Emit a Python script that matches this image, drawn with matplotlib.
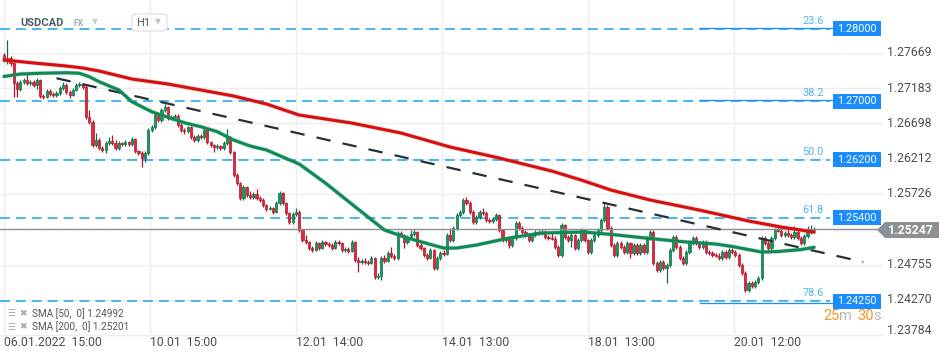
import matplotlib
matplotlib.use("Agg")
import matplotlib.pyplot as plt
from matplotlib.patches import Rectangle, Polygon, FancyBboxPatch
from matplotlib.transforms import blended_transform_factory
import numpy as np

# ---------------- data (USDCAD, H1) ----------------
first_open = 1.2764
closes = [
 1.2757, 1.2760, 1.2753, 1.2725, 1.2717, 1.2727, 1.2730, 1.2725, 1.2727, 1.2723,
 1.2730, 1.2708, 1.2706, 1.2714, 1.2710, 1.2709, 1.2712, 1.2719, 1.2723, 1.2713,
 1.2709, 1.2716, 1.2723, 1.2724, 1.2720, 1.2679, 1.2672, 1.2640, 1.2647, 1.2636,
 1.2633, 1.2643, 1.2646, 1.2643, 1.2636, 1.2643, 1.2641, 1.2644, 1.2641, 1.2648,
 1.2632, 1.2629, 1.2622, 1.2629, 1.2661, 1.2665, 1.2681, 1.2674, 1.2688, 1.2692,
 1.2677, 1.2679, 1.2680, 1.2668, 1.2661, 1.2659, 1.2665, 1.2651, 1.2647, 1.2652,
 1.2651, 1.2661, 1.2644, 1.2640, 1.2637, 1.2639, 1.2636, 1.2643, 1.2651, 1.2630,
 1.2599, 1.2588, 1.2567, 1.2582, 1.2571, 1.2568, 1.2573, 1.2567, 1.2564, 1.2557,
 1.2552, 1.2553, 1.2548, 1.2560, 1.2574, 1.2560, 1.2546, 1.2534, 1.2545, 1.2548,
 1.2523, 1.2509, 1.2506, 1.2498, 1.2495, 1.2505, 1.2498, 1.2506, 1.2504, 1.2502,
 1.2498, 1.2506, 1.2505, 1.2495, 1.2497, 1.2494, 1.2506, 1.2482, 1.2479, 1.2480,
 1.2479, 1.2478, 1.2484, 1.2458, 1.2460, 1.2484, 1.2480, 1.2491, 1.2487, 1.2484,
 1.2519, 1.2516, 1.2506, 1.2513, 1.2517, 1.2520, 1.2502, 1.2498, 1.2488, 1.2484,
 1.2495, 1.2471, 1.2484, 1.2491, 1.2490, 1.2516, 1.2509, 1.2526, 1.2544, 1.2548,
 1.2564, 1.2560, 1.2548, 1.2534, 1.2541, 1.2548, 1.2546, 1.2537, 1.2535, 1.2538,
 1.2544, 1.2523, 1.2509, 1.2510, 1.2502, 1.2512, 1.2533, 1.2526, 1.2520, 1.2516,
 1.2509, 1.2516, 1.2520, 1.2519, 1.2520, 1.2513, 1.2512, 1.2511, 1.2500, 1.2488,
 1.2530, 1.2513, 1.2509, 1.2516, 1.2498, 1.2509, 1.2523, 1.2509, 1.2493, 1.2509,
 1.2516, 1.2523, 1.2537, 1.2555, 1.2526, 1.2502, 1.2488, 1.2505, 1.2500, 1.2493,
 1.2505, 1.2491, 1.2502, 1.2491, 1.2502, 1.2493, 1.2512, 1.2520, 1.2478, 1.2468,
 1.2479, 1.2471, 1.2475, 1.2495, 1.2513, 1.2500, 1.2484, 1.2478, 1.2493, 1.2505,
 1.2512, 1.2505, 1.2500, 1.2506, 1.2493, 1.2491, 1.2488, 1.2487, 1.2484, 1.2493,
 1.2486, 1.2495, 1.2493, 1.2488, 1.2475, 1.2464, 1.2440, 1.2450, 1.2446, 1.2451,
 1.2457, 1.2512, 1.2505, 1.2498, 1.2512, 1.2523, 1.2522, 1.2516, 1.2519, 1.2516,
 1.2513, 1.2520, 1.2512, 1.2505, 1.2515, 1.2520, 1.2523, 1.25247]

highs = [
 1.2767, 1.2785, 1.2763, 1.2754, 1.2728, 1.2730, 1.2732, 1.2739, 1.2730, 1.2730,
 1.2732, 1.2731, 1.2710, 1.2717, 1.2717, 1.2713, 1.2714, 1.2721, 1.2727, 1.2725,
 1.2716, 1.2719, 1.2725, 1.2727, 1.2725, 1.2723, 1.2688, 1.2674, 1.2657, 1.2650,
 1.2639, 1.2646, 1.2651, 1.2654, 1.2647, 1.2646, 1.2644, 1.2647, 1.2646, 1.2651,
 1.2650, 1.2633, 1.2632, 1.2632, 1.2663, 1.2668, 1.2684, 1.2684, 1.2691, 1.2696,
 1.2694, 1.2681, 1.2683, 1.2683, 1.2670, 1.2663, 1.2666, 1.2666, 1.2654, 1.2655,
 1.2655, 1.2663, 1.2662, 1.2646, 1.2641, 1.2641, 1.2640, 1.2646, 1.2662, 1.2652,
 1.2632, 1.2601, 1.2589, 1.2585, 1.2584, 1.2577, 1.2575, 1.2579, 1.2570, 1.2567,
 1.2559, 1.2556, 1.2555, 1.2563, 1.2577, 1.2575, 1.2562, 1.2548, 1.2548, 1.2553,
 1.2551, 1.2524, 1.2516, 1.2508, 1.2501, 1.2508, 1.2506, 1.2509, 1.2508, 1.2506,
 1.2505, 1.2509, 1.2509, 1.2506, 1.2500, 1.2500, 1.2509, 1.2508, 1.2486, 1.2483,
 1.2484, 1.2482, 1.2487, 1.2486, 1.2464, 1.2487, 1.2488, 1.2494, 1.2500, 1.2490,
 1.2521, 1.2521, 1.2517, 1.2516, 1.2523, 1.2524, 1.2521, 1.2505, 1.2500, 1.2491,
 1.2498, 1.2497, 1.2487, 1.2494, 1.2495, 1.2519, 1.2526, 1.2529, 1.2546, 1.2551,
 1.2567, 1.2568, 1.2563, 1.2551, 1.2544, 1.2551, 1.2553, 1.2549, 1.2540, 1.2541,
 1.2546, 1.2545, 1.2524, 1.2512, 1.2512, 1.2515, 1.2535, 1.2535, 1.2529, 1.2523,
 1.2519, 1.2519, 1.2523, 1.2523, 1.2524, 1.2523, 1.2516, 1.2519, 1.2515, 1.2502,
 1.2533, 1.2531, 1.2516, 1.2519, 1.2517, 1.2512, 1.2526, 1.2524, 1.2510, 1.2512,
 1.2519, 1.2526, 1.2540, 1.2560, 1.2557, 1.2529, 1.2505, 1.2508, 1.2508, 1.2502,
 1.2508, 1.2506, 1.2505, 1.2505, 1.2505, 1.2505, 1.2515, 1.2523, 1.2523, 1.2480,
 1.2482, 1.2482, 1.2478, 1.2498, 1.2516, 1.2516, 1.2502, 1.2487, 1.2495, 1.2508,
 1.2515, 1.2515, 1.2508, 1.2509, 1.2509, 1.2495, 1.2494, 1.2491, 1.2491, 1.2495,
 1.2495, 1.2498, 1.2498, 1.2495, 1.2491, 1.2478, 1.2466, 1.2453, 1.2453, 1.2454,
 1.2460, 1.2515, 1.2515, 1.2508, 1.2515, 1.2526, 1.2530, 1.2526, 1.2521, 1.2524,
 1.2519, 1.2529, 1.2523, 1.2515, 1.2517, 1.2529, 1.2530, 1.2527]

lows = [
 1.2754, 1.2752, 1.2749, 1.2706, 1.2706, 1.2714, 1.2724, 1.2723, 1.2723, 1.2720,
 1.2717, 1.2705, 1.2703, 1.2705, 1.2708, 1.2706, 1.2706, 1.2709, 1.2716, 1.2710,
 1.2705, 1.2708, 1.2714, 1.2720, 1.2717, 1.2676, 1.2669, 1.2637, 1.2637, 1.2633,
 1.2630, 1.2629, 1.2640, 1.2640, 1.2633, 1.2633, 1.2639, 1.2639, 1.2639, 1.2639,
 1.2629, 1.2626, 1.2610, 1.2617, 1.2626, 1.2658, 1.2662, 1.2672, 1.2672, 1.2685,
 1.2674, 1.2674, 1.2676, 1.2665, 1.2658, 1.2655, 1.2657, 1.2648, 1.2644, 1.2644,
 1.2648, 1.2648, 1.2641, 1.2637, 1.2630, 1.2635, 1.2633, 1.2633, 1.2640, 1.2628,
 1.2596, 1.2585, 1.2564, 1.2564, 1.2568, 1.2566, 1.2566, 1.2564, 1.2562, 1.2555,
 1.2549, 1.2551, 1.2545, 1.2546, 1.2557, 1.2557, 1.2544, 1.2531, 1.2531, 1.2542,
 1.2520, 1.2506, 1.2504, 1.2495, 1.2493, 1.2494, 1.2495, 1.2497, 1.2501, 1.2500,
 1.2495, 1.2497, 1.2502, 1.2493, 1.2493, 1.2491, 1.2493, 1.2479, 1.2465, 1.2476,
 1.2476, 1.2475, 1.2476, 1.2455, 1.2455, 1.2454, 1.2478, 1.2479, 1.2484, 1.2482,
 1.2482, 1.2513, 1.2498, 1.2504, 1.2510, 1.2515, 1.2500, 1.2495, 1.2486, 1.2482,
 1.2483, 1.2468, 1.2468, 1.2482, 1.2487, 1.2488, 1.2506, 1.2506, 1.2523, 1.2541,
 1.2545, 1.2557, 1.2545, 1.2531, 1.2531, 1.2538, 1.2544, 1.2534, 1.2533, 1.2533,
 1.2535, 1.2520, 1.2506, 1.2506, 1.2498, 1.2500, 1.2509, 1.2523, 1.2517, 1.2513,
 1.2506, 1.2506, 1.2513, 1.2516, 1.2516, 1.2510, 1.2509, 1.2509, 1.2497, 1.2486,
 1.2486, 1.2510, 1.2506, 1.2500, 1.2495, 1.2495, 1.2506, 1.2506, 1.2490, 1.2490,
 1.2506, 1.2513, 1.2520, 1.2534, 1.2523, 1.2500, 1.2486, 1.2486, 1.2497, 1.2490,
 1.2490, 1.2484, 1.2488, 1.2488, 1.2488, 1.2490, 1.2490, 1.2509, 1.2475, 1.2465,
 1.2465, 1.2468, 1.2450, 1.2472, 1.2493, 1.2497, 1.2482, 1.2475, 1.2475, 1.2490,
 1.2502, 1.2502, 1.2497, 1.2497, 1.2490, 1.2488, 1.2486, 1.2486, 1.2482, 1.2482,
 1.2483, 1.2483, 1.2490, 1.2486, 1.2472, 1.2461, 1.2438, 1.2438, 1.2443, 1.2443,
 1.2449, 1.2454, 1.2502, 1.2495, 1.2495, 1.2509, 1.2520, 1.2513, 1.2513, 1.2513,
 1.2510, 1.2510, 1.2509, 1.2502, 1.2502, 1.2512, 1.2517, 1.2520]

# hourly FX candles open at the previous close
opens = [first_open] + closes[:-1]

# moving averages (candle number, value)
sma50_at = [0, 5, 11, 19, 23, 26, 29, 35, 39, 45, 50, 55, 60, 65, 70, 75, 80, 85, 90,
            98, 106, 111, 116, 123, 134, 138, 144, 154, 164, 177, 187, 197, 207, 217,
            222, 227, 231, 236, 243, 247]
sma50 = [1.27344, 1.27378, 1.27388, 1.27396, 1.27388, 1.27341, 1.27272, 1.27158, 1.26997,
         1.26859, 1.26782, 1.26707, 1.26652, 1.26584, 1.26469, 1.26387, 1.26332, 1.26235,
         1.26139, 1.25877, 1.25588, 1.25409, 1.25230, 1.25120, 1.24982, 1.24982, 1.25023,
         1.25120, 1.25189, 1.25202, 1.25161, 1.25113, 1.25069, 1.25037, 1.25003, 1.24961,
         1.24927, 1.24934, 1.24961, 1.24992]
sma200_at = [0, 9, 19, 24, 29, 39, 50, 60, 70, 80, 90, 106, 121, 136, 151, 167, 176, 185,
             197, 212, 227, 237, 247]
sma200 = [1.27571, 1.27530, 1.27488, 1.27461, 1.27419, 1.27309, 1.27240, 1.27158, 1.27075,
          1.26965, 1.26813, 1.26703, 1.26566, 1.26373, 1.26221, 1.26042, 1.25918, 1.25781,
          1.25643, 1.25505, 1.25354, 1.25271, 1.25201]

trend_at = [16, 262]
trend = [1.2732, 1.2479]

fib_levels = [1.2800, 1.2700, 1.2620, 1.2540, 1.2425]
fib_names = ["23.6", "38.2", "50.0", "61.8", "78.6"]
fib_boxes = ["1.28000", "1.27000", "1.26200", "1.25400", "1.24250"]

last_price = 1.25247
price_ticks = [1.27669, 1.27183, 1.26698, 1.26212, 1.25726, 1.25240, 1.24755, 1.24270, 1.23784]
price_tick_labels = ["1.27669", "1.27183", "1.26698", "1.26212", "1.25726", "",
                     "1.24755", "1.24270", "1.23784"]
time_ticks = [0, 44.5, 89, 133.5, 178, 222.5]
time_labels = ["06.01.2022  15:00", "10.01  15:00", "12.01  14:00",
               "14.01  13:00", "18.01  13:00", "20.01  12:00"]

# ---------------- figure ----------------
W, H = 950, 361
plt.rcParams['font.family'] = ['Roboto', 'DejaVu Sans']
fig = plt.figure(figsize=(W / 100, H / 100), dpi=100)
fig.patch.set_facecolor('white')
ax = fig.add_axes([0, 24 / H, 883 / W, 337 / H])
ax.set_xlim(-1.22, 268.0)
ax.set_ylim(1.23757, 1.28397)
ax.axis('off')
bt = blended_transform_factory(fig.transFigure, ax.transData)

grid_c = '#eeeeee'
for p in price_ticks:
    ax.axhline(p, color=grid_c, lw=1.0, zorder=0)
for t in time_ticks:
    ax.axvline(t, color=grid_c, lw=1.0, zorder=0)

# fibonacci levels
fib_c = '#1aa3f0'
for lvl, nm, bx in zip(fib_levels, fib_names, fib_boxes):
    ax.plot([0, 830 / W], [lvl, lvl], transform=bt, color=fib_c, lw=1.1,
            dashes=(6.5, 3.9), zorder=1)
    ax.annotate(nm, xy=(813 / W, lvl), xycoords=bt, xytext=(0, 8),
                textcoords='offset pixels', ha='center', va='center',
                fontsize=7.8, color='#4db4f2')
    ax.add_patch(Rectangle((833 / W, lvl - 0.00103), 48 / W, 0.00207, transform=bt,
                           facecolor='#1a8cff', edgecolor='none', clip_on=False, zorder=6))
    ax.text(857 / W, lvl, bx, transform=bt, ha='center', va='center',
            fontsize=7.8, color='white', zorder=7)
# solid part of the fib drawings near the right end
for lvl, off in [(1.2800, 0.00016), (1.2700, 0.00016), (1.2425, -0.00022)]:
    ax.plot([700 / W, 833 / W], [lvl + off, lvl + off], transform=bt,
            color='#1a8cff', lw=0.9, zorder=1)

# current price line
ax.axhline(last_price, color='#8d9297', lw=1.0, zorder=2.5)

# candles
o = np.array(opens); c = np.array(closes); hi = np.array(highs); lo = np.array(lows)
x = np.arange(len(c))
up = c >= o
fill = np.where(up, '#17995f', '#e4283c')
edge = np.where(up, '#0d6e44', '#b0142a')
top = np.maximum(np.maximum(o, c), hi)
bot = np.minimum(np.minimum(o, c), lo)
ax.vlines(x, bot, top, colors=edge, lw=0.9, zorder=2)
body_b = np.minimum(o, c)
body_h = np.maximum(np.abs(c - o), 0.00004)
ax.bar(x, body_h, bottom=body_b, width=0.66, color=fill, edgecolor=edge,
       linewidth=0.5, zorder=2.2)

# trend line
ax.plot(trend_at, trend, color='#2a2f35', lw=1.6, dashes=(6.5, 5.5), zorder=3)

# moving averages
ax.plot(sma200_at, sma200, color='#e06060', lw=3.1, alpha=0.35, zorder=4,
        solid_capstyle='round', solid_joinstyle='round')
ax.plot(sma200_at, sma200, color='#d60f0f', lw=2.2, zorder=4.1,
        solid_capstyle='round', solid_joinstyle='round')
ax.plot(sma50_at, sma50, color='#4aa67e', lw=3.1, alpha=0.35, zorder=4,
        solid_capstyle='round', solid_joinstyle='round')
ax.plot(sma50_at, sma50, color='#0d8a55', lw=2.2, zorder=4.1,
        solid_capstyle='round', solid_joinstyle='round')

# price axis labels
for p, lab in zip(price_ticks, price_tick_labels):
    if not lab:
        continue
    dy = 5 if p < 1.2380 else 0
    ax.annotate(lab, xy=(887 / W, p), xycoords=bt, xytext=(0, dy),
                textcoords='offset pixels', ha='left', va='center',
                fontsize=8.8, color='#4d4d4d', annotation_clip=False)

# time axis labels
bt2 = blended_transform_factory(ax.transData, fig.transFigure)
for t, lab in zip(time_ticks, time_labels):
    ax.text(t, 1 - 342 / H, lab, transform=bt2, ha='left', va='center',
            fontsize=8.8, color='#4d4d4d', clip_on=False)

# current price tag
def fp(px, py):
    return (px / W, 1 - py / H)
tag = Polygon([fp(877, 230), fp(885, 222), fp(939, 222), fp(939, 238), fp(885, 238)],
              closed=True, transform=fig.transFigure, facecolor='#8c9196',
              edgecolor='none')
fig.patches.append(tag)
fig.text(911 / W, 1 - 230 / H, "1.25247", ha='center', va='center', fontsize=8.8,
         color='white', fontweight='bold')

# countdown
for px, s, col in [(823, "25", '#f7941d'), (839, "m", '#b8b8b8'),
                   (857, "30", '#f7941d'), (873, "s", '#b8b8b8')]:
    fig.text(px / W, 1 - 316 / H, s, ha='left', va='center', fontsize=10.5, color=col)

# header
fig.text(20 / W, 1 - 23 / H, "USDCAD", ha='left', va='center', fontsize=8.0,
         fontweight='bold', color='#4a5866')
fig.text(74 / W, 1 - 24 / H, "FX", ha='left', va='center', fontsize=6.2,
         fontweight='bold', color='#a3adb6')
fig.text(92 / W, 1 - 22 / H, "\u25BC", ha='left', va='center', fontsize=5.5,
         color='#c9ced3', family='DejaVu Sans')
hb = FancyBboxPatch((132 / W, 1 - 31 / H), 35 / W, 17 / H,
                    boxstyle="round,pad=0,rounding_size=0.006",
                    transform=fig.transFigure, facecolor='white', edgecolor='#dddddd', lw=0.8)
fig.patches.append(hb)
fig.text(136 / W, 1 - 23 / H, "H1", ha='left', va='center', fontsize=8.0, color='#555555')
fig.text(155 / W, 1 - 22 / H, "\u25BC", ha='left', va='center', fontsize=5.5,
         color='#c4c4c4', family='DejaVu Sans')

# legend
for py, txt in [(314, "SMA [50,  0] 1.24992"), (327, "SMA [200,  0] 1.25201")]:
    fig.text(7 / W, 1 - py / H, "\u2630", ha='left', va='center', fontsize=6.5,
             color='#a6a6a6', family='DejaVu Sans')
    fig.text(19 / W, 1 - py / H, "\u2716", ha='left', va='center', fontsize=6.5,
             color='#a6a6a6', family='DejaVu Sans')
    fig.text(32 / W, 1 - py / H, txt, ha='left', va='center', fontsize=7.2, color='#555555')

fig.savefig("out.png", dpi=100, facecolor='white')
